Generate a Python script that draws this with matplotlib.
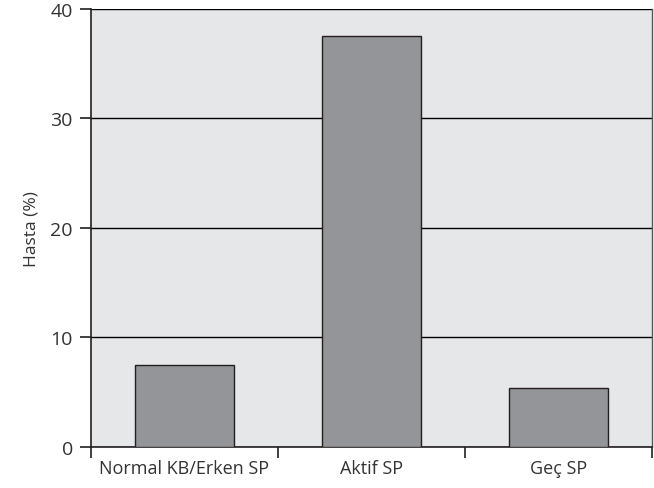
import matplotlib

matplotlib.use("Agg")
import matplotlib.pyplot as plt

plt.rcParams["font.family"] = ["Open Sans", "DejaVu Sans"]

categories = ["Normal KB/Erken SP", "Aktif SP", "Geç SP"]
patients_pct = [7.5, 37.5, 5.4]
y_ticks = [0, 10, 20, 30, 40]

BG = "#e6e7e8"
BAR = "#939598"
INK = "#231f20"
TEXT = "#333333"

fig = plt.figure(figsize=(6.54, 4.89), dpi=100)
ax = fig.add_axes([0.139, 0.084, 0.858, 0.896])
ax.set_facecolor(BG)

x = [i + 0.5 for i in range(len(categories))]
ax.bar(x, patients_pct, width=0.53, color=BAR, edgecolor=INK, linewidth=1.0, zorder=3)

ax.set_xlim(0, len(categories))
ax.set_ylim(0, 40)
ax.set_yticks(y_ticks)
ax.yaxis.grid(True, color="#000000", linewidth=1.0, zorder=1)
ax.set_axisbelow(True)

# category labels centred, tick marks on the boundaries
ax.set_xticks(x, categories)
ax.tick_params(axis="x", which="major", length=0, pad=9, labelsize=13, labelcolor=TEXT)
ax.set_xticks(range(len(categories) + 1), minor=True)
ax.tick_params(axis="x", which="minor", length=8, width=1.2, color=INK)
ax.tick_params(axis="y", length=8, width=1.2, color=INK, pad=5, labelsize=14, labelcolor=TEXT)

ax.set_ylabel("Hasta (%)", fontsize=12.5, color=TEXT, labelpad=8)

for side in ("left", "bottom"):
    ax.spines[side].set_color(INK)
    ax.spines[side].set_linewidth(1.2)
ax.spines["top"].set_visible(False)
ax.spines["right"].set_color("#555555")
ax.spines["right"].set_linewidth(1.0)

fig.savefig("out.png", dpi=100)
